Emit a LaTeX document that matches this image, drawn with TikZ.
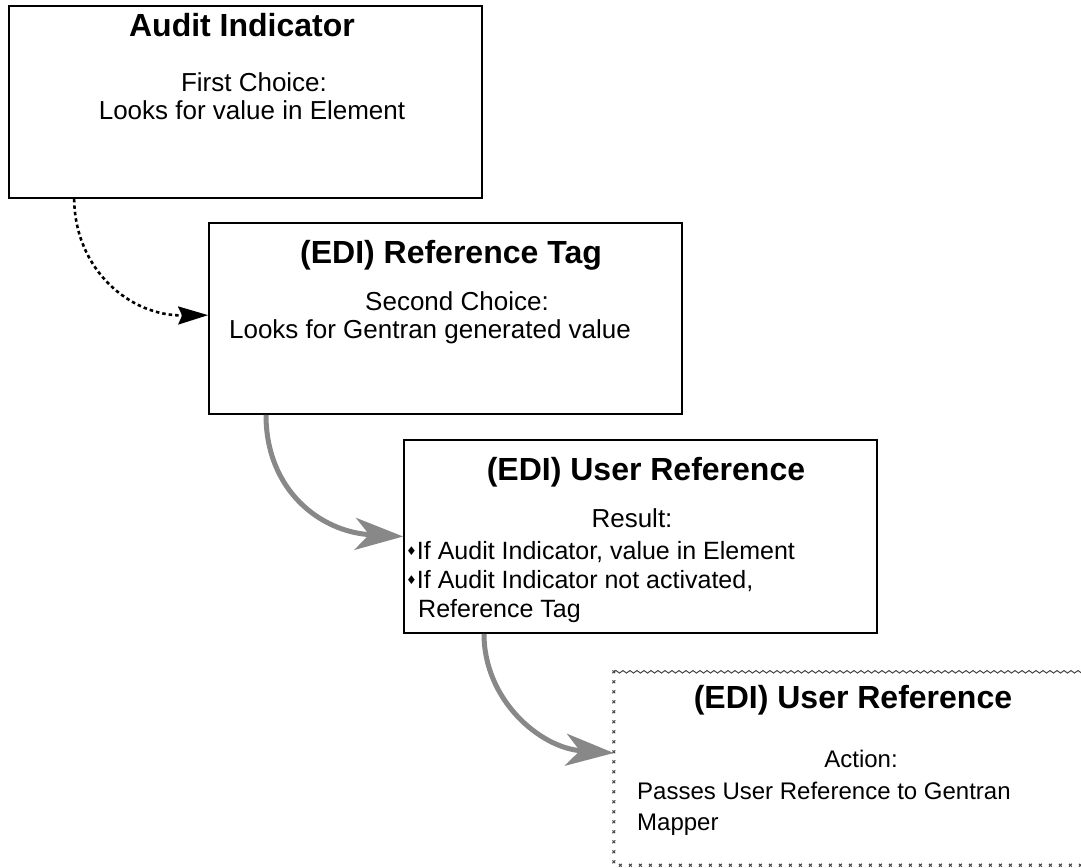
\documentclass[tikz,border=0pt]{standalone}
\usepackage{fontspec}
\setmainfont{Liberation Sans}
\newfontfamily\symfont{DejaVu Sans}
\usetikzlibrary{arrows.meta,decorations.pathmorphing,decorations.shapes}
\definecolor{arrowgray}{RGB}{136,136,136}
\definecolor{bordergray}{RGB}{70,70,70}
\tikzset{
  box/.style={draw=black,line width=1.7pt,inner sep=0pt,minimum width=473pt},
  ghost/.style={inner sep=0pt,minimum width=473pt},
  title/.style={anchor=base,inner sep=0pt,font=\bfseries\fontsize{32}{38}\selectfont},
  body/.style={anchor=base,inner sep=0pt,font=\fontsize{26}{30}\selectfont},
  bodyleft/.style={anchor=base west,inner sep=0pt,font=\fontsize{25}{30}\selectfont},
  smallleft/.style={anchor=base west,inner sep=0pt,font=\fontsize{24}{30}\selectfont},
  dotarrow/.style={line width=2.6pt,dash pattern=on 3.5pt off 3pt,-{Stealth[length=30pt,width=18pt,inset=4pt]}},
  grayarrow/.style={draw=arrowgray,line width=5pt,-{Stealth[length=48pt,width=32pt,inset=14pt]}},
}
\newcommand{\dbullet}{\raisebox{4pt}{\symfont\fontsize{12}{12}\selectfont ♦}}
\begin{document}
\begin{tikzpicture}[x=1pt,y=-1pt]
\useasboundingbox (0,0) rectangle (1081,867);
% boxes
\node[box,minimum height=192pt] (b1) at (245.5,102) {};
\node[box,minimum height=191pt] (b2) at (445.5,318.5) {};
\node[box,minimum height=193pt] (b3) at (640.5,536.5) {};
\node[ghost,minimum height=193pt] (b4) at (850.5,768.5) {};
% special border of the last box
\draw[bordergray,line width=1pt,decorate,decoration={snake,segment length=7pt,amplitude=1.3pt}]
  (b4.north west) -- (b4.north east);
\draw[bordergray,line width=1pt,decorate,decoration={crosses,segment length=10pt,shape size=2.8pt}]
  (b4.north west) -- (b4.south west) -- (b4.south east);
% texts box 1
\node[title] (t1) at (242,37) {Audit Indicator};
\node[body] (c1a) at (254,91) {First Choice:};
\node[body] (c1b) at (252,119) {Looks for value in Element};
% texts box 2
\node[title] (t2) at (451,263) {(EDI) Reference Tag};
\node[body] (c2a) at (457,310) {Second Choice:};
\node[body] (c2b) at (430,338) {Looks for Gentran generated value};
% texts box 3
\node[title] (t3) at (646,480) {(EDI) User Reference};
\node[body] (c3a) at (632,527) {Result:};
\node[bodyleft] (c3b) at (406,559) {\dbullet If Audit Indicator, value in Element};
\node[bodyleft] (c3c) at (406,588) {\dbullet If Audit Indicator not activated,};
\node[bodyleft] (c3d) at (418,617) {Reference Tag};
% texts box 4
\node[title] (t4) at (853,708) {(EDI) User Reference};
\node[body,font=\fontsize{24}{30}\selectfont] (c4a) at (861,767) {Action:};
\node[smallleft] (c4b) at (637,799) {Passes User Reference to Gentran};
\node[smallleft] (c4c) at (637,830) {Mapper};
% connectors
\draw[dotarrow] ([xshift=66pt]b1.south west) .. controls (75,270) and (130,316) .. ([yshift=-93pt]b2.north west);
\draw[grayarrow] ([xshift=-179.5pt]b2.south) .. controls (266,490) and (320,532) .. (b3.west);
\draw[grayarrow] ([xshift=-156.5pt]b3.south) .. controls (484,700) and (540,748) .. ([yshift=15.5pt]b4.west);
\end{tikzpicture}
\end{document}
